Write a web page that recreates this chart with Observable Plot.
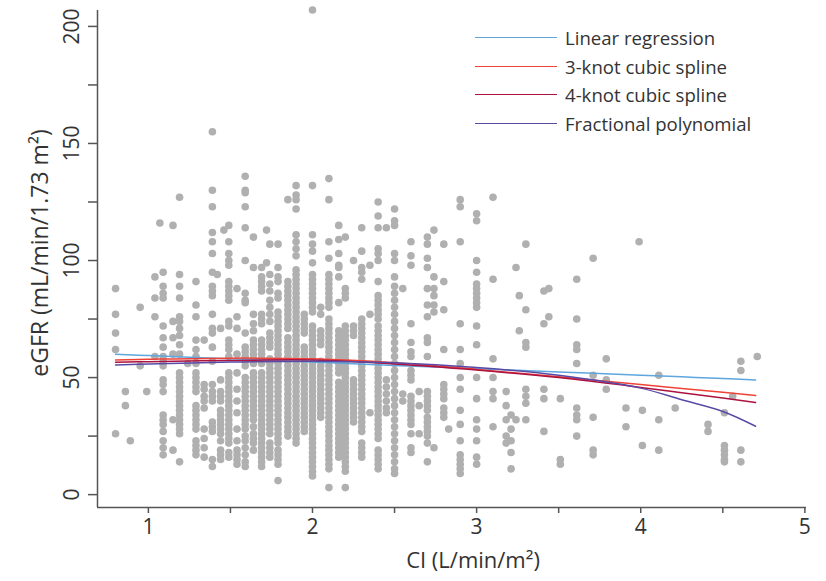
<!DOCTYPE html>
<html><head><meta charset="utf-8">
<script src="https://cdn.jsdelivr.net/npm/d3@7"></script>
<script src="https://cdn.jsdelivr.net/npm/@observablehq/plot@0.6"></script>
<style>
body{margin:0;background:#fff;font-family:"Open Sans",sans-serif;}
#wrap{position:relative;width:826px;height:581px;}
#legend{position:absolute;left:475px;top:23px;font-size:18.6px;color:#333;}
.row{display:flex;align-items:center;height:28.7px;white-space:nowrap;}
.sw{width:82px;height:0;border-top:1.6px solid;margin-right:8px;}
</style></head><body><div id="wrap"><div id="legend"></div></div>
<script>
const ci = [0.80,0.86,0.89,0.95,0.99,1.04,1.07,1.09,1.15,1.19,1.24,1.29,1.34,1.39,1.42,1.44,1.46,1.49,1.54,1.59,1.64,1.69,1.72,1.74,1.79,1.85,1.90,1.95,2.00,2.05,2.10,2.16,2.20,2.25,2.30,2.35,2.40,2.45,2.50,2.55,2.60,2.65,2.70,2.74,2.80,2.83,2.90,3.00,3.10,3.18,3.21,3.24,3.26,3.30,3.41,3.44,3.51,3.61,3.71,3.79,3.91,3.99,4.01,4.11,4.21,4.41,4.51,4.56,4.61,4.71];
const egfr = [
[88,77,69,62,26],
[44,38],
[23],
[80,55],
[44],
[93,84,76,59],
[116],
[95,89,86,84,72,67,63,59,57,55,49,47,44,34,32,30,27,23,20,17],
[115,74,67,60,32,19],
[127,94,89,84,76,74,71,68,64,60,52,50,48,46,44,42,40,38,36,34,32,30,28,26,14],
[56],
[91,81,76,66,62,59,56,52,50,48,46,44,38,36,34,32,30,28,23,21,19,17],
[66,47,45,42,40,37,28,24,20,16],
[155,130,123,112,108,103,95,89,87,85,77,71,69,63,57,47,44,42,40,31,29,27,15,12],
[94],
[71,49,44,42,40,36,34,32,30,28,26,23,19,17,15],
[113],
[115,108,103,100,98,91,89,87,85,83,74,72,66,64,62,59,52,50,48,46,44,42,40,38,36,34,32,30,28,26,24,22,18,16],
[88,76,71,60,52,45,40,35,28,23,19,17,15,13],
[136,130,129,123,114,100,86,83,82,69,63,61,59,57,55,50,48,46,44,42,40,38,36,34,32,30,28,25,23,20,17,14,12],
[110,97,77,73,70,66,64,62,60,58,56,52,50,48,46,44,42,40,38,36,34,32,29,26,24,22,19],
[97,93,91,89,87,77,75,73,66,64,62,60,58,56,52,50,48,46,44,42,40,38,36,34,32,30,28,26,24,22,20,18,16,14,12],
[113,99],
[107,94,90,87,83,80,77,74,69,67,65,63,58,56,54,52,50,48,46,44,42,40,38,36,34,32,30,28,26,22,20,18,16],
[107,97,93,91,86,84,78,76,74,72,70,68,66,64,62,60,58,56,54,52,50,48,46,44,42,40,38,36,34,32,30,28,26,24,22,19,17,15,13,6],
[126,91,89,87,85,83,81,79,77,75,73,71,67,65,63,61,59,57,55,53,51,49,47,45,43,41,39,37,35,33,31,29,27,25],
[132,128,126,122,111,108,105,102,96,94,92,90,88,86,84,82,80,78,76,74,72,70,68,66,64,62,60,58,56,54,52,50,48,46,44,42,40,38,36,34,32,30,28,26,24,22],
[77,75,73,71,69,63,61,59,57,55,53,51,49,47,45,43,41,39,37,35,33,31,29,27],
[207,132,111,107,104,99,94,92,90,88,86,84,82,80,78,72,70,68,66,64,62,60,58,56,54,52,50,48,46,44,42,40,38,36,34,32,30,28,26,24,22,20,18,16,14,12,10,8],
[80,77,70,68,66,64,57,55,53,51,49,47,45,43,41,39,37,35,33],
[135,126,108,101,94,92,90,88,86,84,82,80,75,73,71,69,67,65,63,61,59,57,55,53,51,49,47,45,43,41,39,37,35,33,31,29,27,25,23,21,19,17,15,13,11,3],
[115,109,103,98,97,93,82,70,68,66,64,62,60,58,56,54,52,48,46,44,42,40,38,36,34,32,30,28,26,24,22,20,18,16],
[110,88,86,84,72,70,68,66,64,62,60,58,56,54,52,50,48,46,44,42,40,38,36,34,32,30,28,26,24,22,20,18,16,14,12,10,3],
[100,72,70,68,49,47,45,43,41,39,37,35,33,31],
[114,104,97,95,92,75,73,71,69,67,65,63,61,59,57,55,53,51,49,47,45,43,41,39,37,35,33,31,29,27,22,20,18,16],
[98,77,35],
[125,119,114,105,103,100,91,85,83,81,79,77,75,72,70,68,66,64,62,60,58,56,54,52,50,48,46,44,42,40,38,36,34,32,30,28,26,24,19,17,15,13,11],
[114,49,46,43,40,37,35],
[122,117,115,103,100,93,89,86,83,80,77,74,71,68,65,62,59,56,53,50,47,44,41,38,35,32,29,26,23,20,17,14,11,9],
[88,43,40],
[108,102,98,73,65,61,59,53,51,49,42,40,38,36,34,32,30,26,20,18],
[44,38,26],
[110,107,101,97,88,81,76,67,65,59,44,42,40,38,36,33,31,29,27,25,22,14],
[113,93,88,85,81,78,20],
[107,91,79,62,47,45,43,41,37,35,33],
[28],
[126,123,108,73,62,56,50,45,36,30,23,17,15,13,11,9],
[120,117,100,95,90,88,86,84,82,80,72,64,50,41,32,28,23,16,13],
[127,92,58,50,44,41,29],
[44,38,32,25,22],
[34,28,23,18,11],
[97,32],
[85,70],
[107,79,65,63,45,42,39,32],
[87,73,45,41,27],
[88,76],
[41,15,13],
[92,75,64,62,56,37,34,32,25],
[101,51,33,19,17],
[58,49,45],
[37,29],
[108],
[36,21],
[51,32,19],
[37],
[30,27],
[35,21,19,17,15,14],
[42],
[57,53,19,14],
[59]
];

// fitted curves
const fitCI = [0.8,1.0,1.5,2.0,2.5,3.0,3.5,4.0,4.25,4.5,4.7];
const linearFit = [60.0,59.4,58.0,56.6,55.2,53.8,52.4,51.0,50.3,49.6,49.0];
const spline3 = [57.5,57.8,58.3,58.0,56.3,53.5,50.3,47.0,45.3,43.7,42.3];
const spline4 = [56.5,56.8,57.3,57.5,55.8,53.2,50.0,45.8,43.5,41.3,39.4];
const fracPoly = [55.4,55.8,56.6,57.0,56.3,54.3,51.0,45.5,40.5,35.5,29.2];

const seriesNames = ["Linear regression","3-knot cubic spline","4-knot cubic spline","Fractional polynomial"];
const seriesColors = ["#5ea6dd","#ef4338","#ad1240","#5a4aa6"];
const xTicks = [1,1.5,2,2.5,3,3.5,4,4.5,5];
const xLabels = [1,2,3,4,5];
const yTicks = [0,25,50,75,100,125,150,175,200];
const yLabels = [0,50,100,150,200];

const points = ci.flatMap((x, i) => egfr[i].map(y => ({x, y})));
const fits = [linearFit, spline3, spline4, fracPoly];
const lineData = fits.flatMap((arr, k) => arr.map((y, i) => ({x: fitCI[i], y, s: seriesNames[k]})));

const font = "Open Sans, sans-serif";
const xDom = [0.69, 5.01], yDom = [-5.5, 206.8];

const chart = Plot.plot({
  width: 826, height: 581,
  marginLeft: 97, marginRight: 20, marginTop: 10, marginBottom: 74,
  style: {fontFamily: font, background: "#fff", color: "#333", overflow: "visible"},
  x: {domain: xDom},
  y: {domain: yDom},
  color: {domain: seriesNames, range: seriesColors},
  marks: [
    Plot.dot(points, {x: "x", y: "y", r: 3.8, fill: "#b0b0b0", stroke: "none"}),
    Plot.line(lineData, {x: "x", y: "y", z: "s", stroke: "s", strokeWidth: 1.5, curve: "catmull-rom"}),
    Plot.ruleX([xDom[0]], {stroke: "#555", strokeWidth: 1.5}),
    Plot.ruleY([yDom[0]], {stroke: "#555", strokeWidth: 1.5}),
    Plot.axisX({ticks: xTicks, tickFormat: () => "", tickSize: 6, stroke: "#555", strokeWidth: 1.5, label: null}),
    Plot.axisY({ticks: yTicks, tickFormat: () => "", tickSize: 9, stroke: "#555", strokeWidth: 1.5, label: null}),
    Plot.text(xLabels, {x: d => d, text: d => String(d), frameAnchor: "bottom", dy: 26, fontSize: 21, fill: "#333"}),
    Plot.text(yLabels, {y: d => d, text: d => String(d), frameAnchor: "left", textAnchor: "middle", dx: -25, rotate: -90, fontSize: 21, fill: "#333"}),
    Plot.text(["eGFR (mL/min/1.73 m²)"], {frameAnchor: "left", textAnchor: "middle", dx: -57, dy: -6, rotate: -90, fontSize: 23, fill: "#333"}),
    Plot.text(["CI (L/min/m²)"], {frameAnchor: "bottom", textAnchor: "middle", dx: 21, dy: 60, fontSize: 22, fill: "#333"})
  ]
});
document.getElementById("wrap").prepend(chart);

const legend = document.getElementById("legend");
seriesNames.forEach((n, i) => {
  const row = document.createElement("div");
  row.className = "row";
  const sw = document.createElement("span");
  sw.className = "sw";
  sw.style.borderColor = seriesColors[i];
  const t = document.createElement("span");
  t.textContent = n;
  row.append(sw, t);
  legend.append(row);
});
</script>
</body></html>
